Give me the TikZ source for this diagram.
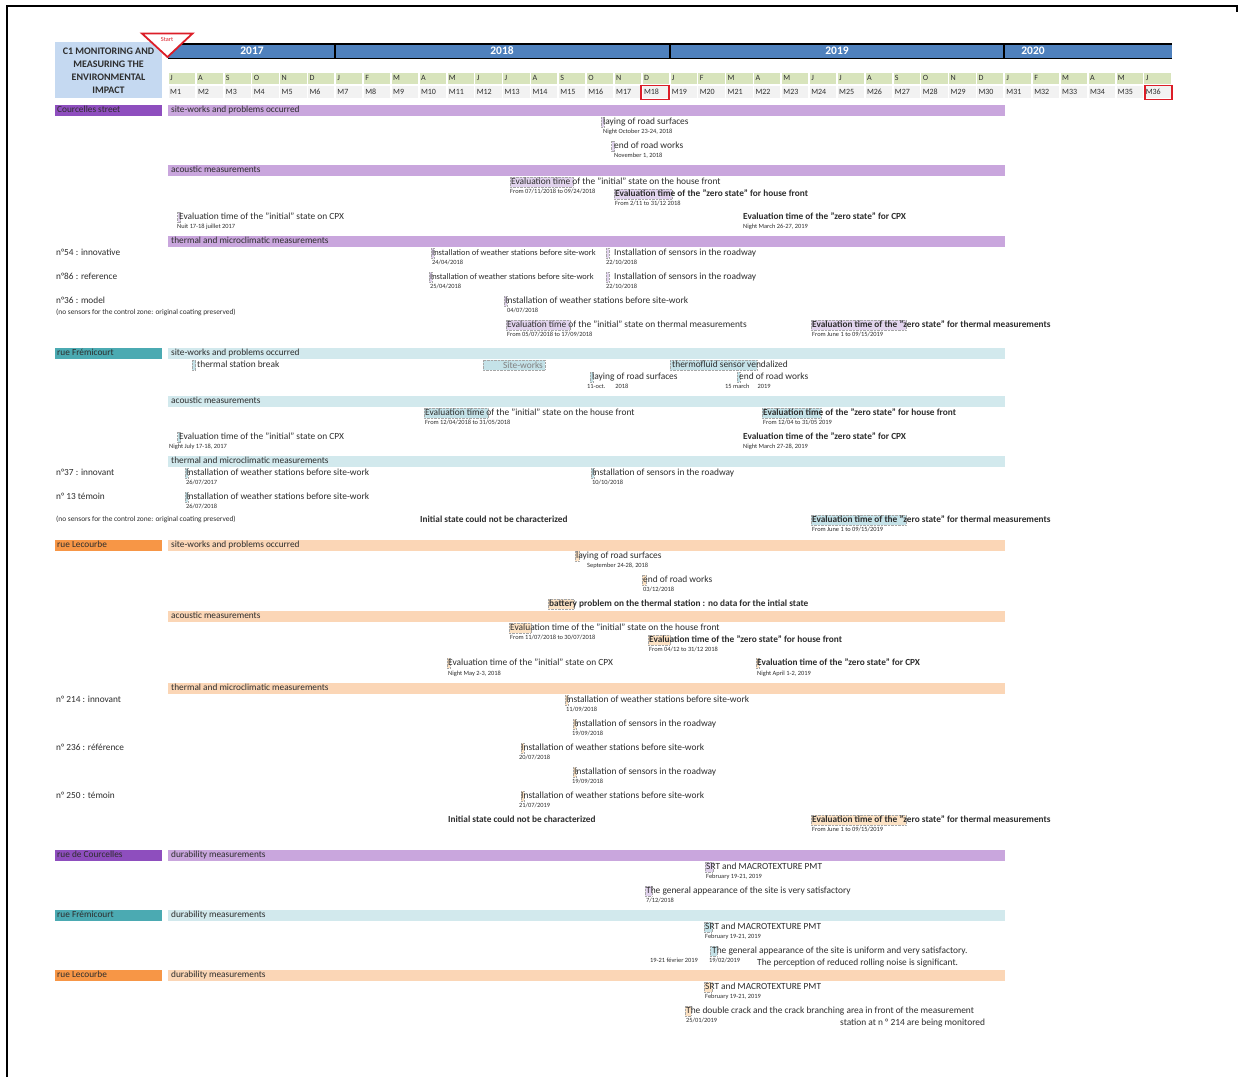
\documentclass[tikz,border=0pt]{standalone}
\usepackage{fontspec}
\setmainfont{Carlito}
\definecolor{txt}{RGB}{45,45,45}
\definecolor{purD}{RGB}{142,78,190}
\definecolor{purL}{RGB}{201,166,221}
\definecolor{purH}{RGB}{226,212,238}
\definecolor{teaD}{RGB}{75,170,178}
\definecolor{teaL}{RGB}{210,233,237}
\definecolor{teaH}{RGB}{196,226,232}
\definecolor{oraD}{RGB}{247,150,70}
\definecolor{oraL}{RGB}{251,214,182}
\definecolor{oraH}{RGB}{252,226,196}
\definecolor{hdrL}{RGB}{197,217,241}
\definecolor{yrB}{RGB}{79,129,189}
\definecolor{mgreen}{RGB}{216,228,188}
\definecolor{mgray}{RGB}{242,242,242}
\definecolor{redS}{RGB}{220,30,40}
\newcounter{nid}
\newcommand\T[4]{\stepcounter{nid}\node[#1] (t\arabic{nid}) at (#2,#3) {#4};}
\newcommand\HL[4]{\filldraw[fill=#4, draw=gray!70, densely dotted, line width=0.4pt] (#1,#3-5) rectangle (#2,#3+5);}
\newcommand\Bar[3]{\fill[#2] (168,#1-5.5) rectangle (1005,#1+5.5); \T{lbl}{171}{#1}{#3}}
\newcommand\Lab[3]{\fill[#2] (55,#1-5.5) rectangle (162,#1+5.5); \T{lbl}{57}{#1}{#3}}
\tikzset{
 base/.style={inner sep=0pt, anchor=west, text=txt},
 evt/.style={base, font=\fontsize{9.4}{11}\selectfont, text height=6.7pt, text depth=1.9pt},
 evs/.style={base, font=\fontsize{8.4}{10}\selectfont, text height=6pt, text depth=1.7pt},
 evb/.style={base, font=\bfseries\fontsize{9.3}{11}\selectfont, text height=6.7pt, text depth=1.9pt},
 dat/.style={base, font=\fontsize{6.4}{7.5}\selectfont, text height=4.6pt, text depth=1.3pt},
 tiny/.style={base, font=\fontsize{7.4}{8.5}\selectfont, text height=5.3pt, text depth=1.5pt},
 lbl/.style={base, font=\fontsize{9.3}{11}\selectfont, text height=6.7pt, text depth=1.9pt},
 mon/.style={base, font=\fontsize{8}{9}\selectfont, text height=5.8pt, text depth=1.6pt},
 yr/.style={font=\bfseries\fontsize{11.5}{12}\selectfont, text=white, inner sep=0pt},
}
\begin{document}
\begin{tikzpicture}[x=1pt,y=-1pt]
\useasboundingbox (0,0) rectangle (1243,1077);
\fill[white] (0,0) rectangle (1243,1077);
% frame
\draw[line width=1.5pt] (7,1077) -- (7,6) -- (1237,6) -- (1237,12);
% header box
\fill[hdrL] (55,42) rectangle (162,98);
\node[font=\bfseries\fontsize{10}{13}\selectfont, text=txt, align=center, inner sep=0pt] (hdr) at (108.5,70.5) {C1 MONITORING AND\\MEASURING THE\\ENVIRONMENTAL\\IMPACT};
% year bar
\fill[yrB] (168,44) rectangle (1172,58.5);
\draw[line width=2pt] (168,43.5) -- (1172,43.5);
\draw[line width=1.3pt] (168,58.8) -- (1172,58.8);
\draw[line width=1.6pt] (335.25,43) -- (335.25,59) (669.75,43) -- (669.75,59) (1004.25,43) -- (1004.25,59);
\node[yr] (y17) at (252,51) {2017};
\node[yr] (y18) at (502,51) {2018};
\node[yr] (y19) at (837,51) {2019};
\node[yr] (y20) at (1033,51) {2020};
% months
\foreach \l [count=\i] in {J,A,S,O,N,D,J,F,M,A,M,J,J,A,S,O,N,D,J,F,M,A,M,J,J,A,S,O,N,D,J,F,M,A,M,J} {
 \pgfmathsetmacro\xa{168+(\i-1)*27.875}
 \fill[mgreen] (\xa+0.8,73) rectangle (\xa+27,84);
 \node[mon] (ml\i) at (\xa+2,78.8) {\l};
 \fill[mgray] (\xa+0.8,86) rectangle (\xa+27,98);
 \node[mon] (mm\i) at (\xa+2,92.3) {M\i};
}
\draw[redS, line width=1.8pt] (641,85.5) rectangle (669,99.5);
\draw[redS, line width=1.8pt] (1145,85.5) rectangle (1172,99.5);
% start triangle
\filldraw[fill=white, draw=redS, line width=1.8pt] (142,33.5) -- (192.5,33.5) -- (167.5,57) -- cycle;
\node[font=\fontsize{6.3}{7}\selectfont, text=redS, inner sep=0pt] (start) at (167,39.5) {Start};

% ===== Courcelles street =====
\Lab{110.5}{purD}{Courcelles street}
\Bar{110.5}{purL}{site-works and problems occurred}
\HL{601}{604}{122}{purH}
\T{evt}{603}{122}{laying of road surfaces}
\T{dat}{603}{132}{Night October 23-24, 2018}
\HL{611.5}{614.5}{146}{purH}
\T{evt}{614}{146}{end of road works}
\T{dat}{614}{156}{November 1, 2018}
\Bar{170}{purL}{acoustic measurements}
\HL{510}{573}{182}{purH}
\T{evt}{511}{182}{Evaluation time of the "initial" state on the house front}
\T{dat}{510}{192}{From 07/11/2018 to 09/24/2018}
\HL{614}{672}{194}{purH}
\T{evb}{615}{194}{Evaluation time of the "zero state" for house front}
\T{dat}{615}{204}{From 2/11 to 31/12 2018}
\HL{177.5}{180.5}{217}{purH}
\T{evt}{179}{217}{Evaluation time of the "initial" state on CPX}
\T{dat}{177}{227}{Nuit 17-18 juillet 2017}
\T{evb}{743}{217}{Evaluation time of the "zero state" for CPX}
\T{dat}{743}{227}{Night March 26-27, 2019}
\Bar{241}{purL}{thermal and microclimatic measurements}
\T{lbl}{56}{253}{n°54 : innovative}
\HL{431}{434}{253}{purH}
\T{evs}{432}{253}{Installation of weather stations before site-work}
\T{dat}{432}{263}{24/04/2018}
\HL{606}{609}{253}{purH}
\T{evt}{614}{253}{Installation of sensors in the roadway}
\T{dat}{606}{263}{22/10/2018}
\T{lbl}{56}{277}{n°86 : reference}
\HL{429}{432}{277}{purH}
\T{evs}{430}{277}{Installation of weather stations before site-work}
\T{dat}{430}{287}{25/04/2018}
\HL{606}{609}{277}{purH}
\T{evt}{614}{277}{Installation of sensors in the roadway}
\T{dat}{606}{287}{22/10/2018}
\T{lbl}{56}{301}{n°36 : model}
\HL{504}{507}{301}{purH}
\T{evt}{505}{301}{Installation of weather stations before site-work}
\T{dat}{507}{311}{04/07/2018}
\T{tiny}{56}{313}{(no sensors for the control zone: original coating preserved)}
\HL{506}{570}{325}{purH}
\T{evt}{507}{325}{Evaluation time of the "initial" state on thermal measurements}
\T{dat}{507}{335}{From 05/07/2018 to 17/09/2018}
\HL{811}{906}{325}{purH}
\T{evb}{812}{325}{Evaluation time of the "zero state" for thermal measurements}
\T{dat}{812}{335}{From June 1 to 09/15/2019}

% ===== rue Frémicourt =====
\Lab{353.5}{teaD}{rue Frémicourt}
\Bar{353.5}{teaL}{site-works and problems occurred}
\HL{192}{195.5}{365}{teaH}
\T{evt}{197}{365}{thermal station break}
\HL{483}{545}{365}{teaH}
\node[font=\fontsize{9.4}{11}\selectfont, text=gray, inner sep=0pt] (sw) at (523,365) {Site-works};
\HL{670}{757}{365}{teaH}
\T{evt}{672}{365}{thermofluid sensor vendalized}
\HL{590}{593}{377}{teaH}
\T{evt}{592}{377}{laying of road surfaces}
\T{dat}{587}{387}{11-oct.\hspace{10pt}2018}
\HL{737}{740}{377}{teaH}
\T{evt}{739}{377}{end of road works}
\T{dat}{725}{387}{15 march\hspace{8pt}2019}
\Bar{401}{teaL}{acoustic measurements}
\HL{424}{488}{413}{teaH}
\T{evt}{425}{413}{Evaluation time of the "initial" state on the house front}
\T{dat}{425}{423}{From 12/04/2018 to 31/05/2018}
\HL{762}{821}{413}{teaH}
\T{evb}{763}{413}{Evaluation time of the "zero state" for house front}
\T{dat}{763}{423}{From 12/04 to 31/05 2019}
\HL{177.5}{180.5}{437}{teaH}
\T{evt}{179}{437}{Evaluation time of the "initial" state on CPX}
\T{dat}{169}{447}{Night July 17-18, 2017}
\T{evb}{743}{437}{Evaluation time of the "zero state" for CPX}
\T{dat}{743}{447}{Night March 27-28, 2019}
\Bar{461}{teaL}{thermal and microclimatic measurements}
\T{lbl}{56}{473}{n°37 : innovant}
\HL{185}{188}{473}{teaH}
\T{evt}{186}{473}{Installation of weather stations before site-work}
\T{dat}{186}{483}{26/07/2017}
\HL{591}{594}{473}{teaH}
\T{evt}{592}{473}{Installation of sensors in the roadway}
\T{dat}{592}{483}{10/10/2018}
\T{lbl}{56}{497}{n° 13 témoin}
\HL{185}{188}{497}{teaH}
\T{evt}{186}{497}{Installation of weather stations before site-work}
\T{dat}{186}{507}{26/07/2018}
\T{tiny}{56}{520}{(no sensors for the control zone: original coating preserved)}
\T{evb}{420}{520}{Initial state could not be characterized}
\HL{811}{906}{520}{teaH}
\T{evb}{812}{520}{Evaluation time of the "zero state" for thermal measurements}
\T{dat}{812}{530}{From June 1 to 09/15/2019}

% ===== rue Lecourbe =====
\Lab{545}{oraD}{rue Lecourbe}
\Bar{545}{oraL}{site-works and problems occurred}
\HL{575}{579}{556}{oraH}
\T{evt}{576}{556}{laying of road surfaces}
\T{dat}{587}{566}{September 24-28, 2018}
\HL{642}{646}{580}{oraH}
\T{evt}{643}{580}{end of road works}
\T{dat}{643}{590}{03/12/2018}
\HL{548}{574}{604}{oraH}
\T{evb}{549}{604}{battery problem on the thermal station : no data for the intial state}
\Bar{616}{oraL}{acoustic measurements}
\HL{509}{531}{628}{oraH}
\T{evt}{510}{628}{Evaluation time of the "initial" state on the house front}
\T{dat}{510}{638}{From 11/07/2018 to 30/07/2018}
\HL{648}{670}{640}{oraH}
\T{evb}{649}{640}{Evaluation time of the "zero state" for house front}
\T{dat}{649}{650}{From 04/12 to 31/12 2018}
\HL{447}{450}{663}{oraH}
\T{evt}{448}{663}{Evaluation time of the "initial" state on CPX}
\T{dat}{448}{674}{Night May 2-3, 2018}
\HL{756}{759}{663}{oraH}
\T{evb}{757}{663}{Evaluation time of the "zero state" for CPX}
\T{dat}{757}{674}{Night April 1-2, 2019}
\Bar{688}{oraL}{thermal and microclimatic measurements}
\T{lbl}{56}{700}{n° 214 : innovant}
\HL{565}{568}{700}{oraH}
\T{evt}{566}{700}{Installation of weather stations before site-work}
\T{dat}{566}{710}{11/09/2018}
\HL{573}{576}{724}{oraH}
\T{evt}{574}{724}{Installation of sensors in the roadway}
\T{dat}{572}{734}{19/09/2018}
\T{lbl}{56}{748}{n° 236 : référence}
\HL{521}{524}{748}{oraH}
\T{evt}{521}{748}{Installation of weather stations before site-work}
\T{dat}{519}{758}{20/07/2018}
\HL{573}{576}{772}{oraH}
\T{evt}{574}{772}{Installation of sensors in the roadway}
\T{dat}{572}{782}{19/09/2018}
\T{lbl}{56}{796}{n° 250 : témoin}
\HL{521}{524}{796}{oraH}
\T{evt}{521}{796}{Installation of weather stations before site-work}
\T{dat}{519}{806}{21/07/2019}
\T{evb}{448}{820}{Initial state could not be characterized}
\HL{811}{906}{820}{oraH}
\T{evb}{812}{820}{Evaluation time of the "zero state" for thermal measurements}
\T{dat}{812}{830}{From June 1 to 09/15/2019}

% ===== durability =====
\Lab{855.5}{purD}{rue de Courcelles}
\Bar{855.5}{purL}{durability measurements}
\HL{705}{713}{867}{purH}
\T{evt}{706}{867}{SRT and MACROTEXTURE PMT}
\T{dat}{706}{877}{February 19-21, 2019}
\HL{645}{652}{891}{purH}
\T{evt}{646}{891}{The general appearance of the site is very satisfactory}
\T{dat}{646}{901}{7/12/2018}
\Lab{915}{teaD}{rue Frémicourt}
\Bar{915}{teaL}{durability measurements}
\HL{704}{712}{927}{teaH}
\T{evt}{705}{927}{SRT and MACROTEXTURE PMT}
\T{dat}{705}{937}{February 19-21, 2019}
\HL{710}{717}{951}{teaH}
\T{evt}{712}{951}{The general appearance of the site is uniform and very satisfactory.}
\T{dat}{650}{961}{19-21 février 2019}
\T{dat}{709}{961}{19/02/2019}
\T{evt}{757}{963}{The perception of reduced rolling noise is significant.}
\Lab{975}{oraD}{rue Lecourbe}
\Bar{975}{oraL}{durability measurements}
\HL{704}{712}{987}{oraH}
\T{evt}{705}{987}{SRT and MACROTEXTURE PMT}
\T{dat}{705}{997}{February 19-21, 2019}
\HL{685}{691}{1011}{oraH}
\T{evt}{686}{1011}{The double crack and the crack branching area in front of the measurement}
\T{dat}{686}{1021}{25/01/2019}
\T{evt}{840}{1023}{station at n ° 214 are being monitored}
\end{tikzpicture}
\end{document}
